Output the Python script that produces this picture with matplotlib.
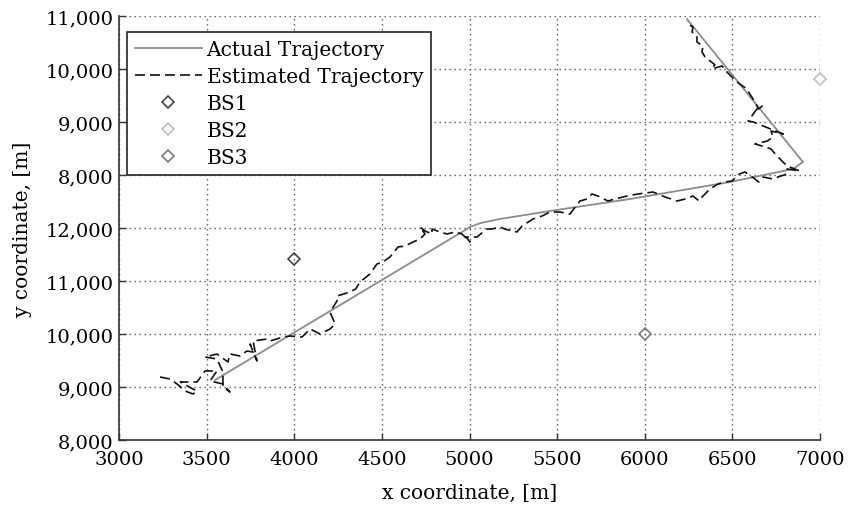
import matplotlib
matplotlib.use('Agg')
import matplotlib.pyplot as plt

# Actual (ground truth) mobile trajectory, metres
actual_x = [3548, 4957, 5003, 5060, 5117, 5174, 5459, 5916, 6486, 6846, 6903, 6241]
actual_y = [9132, 11925, 12019, 12090, 12132, 12170, 12321, 12547, 12868, 13113, 13245, 15943]

# Estimated trajectory from the tracker, metres
est_x = [3234, 3291, 3331, 3377, 3422, 3445, 3400, 3350, 3445, 3491,
         3559, 3519, 3593, 3633, 3593, 3593, 3559, 3491, 3559, 3622,
         3633, 3690, 3730, 3765, 3748, 3787, 3765, 3845, 3862, 3936,
         3976, 4044, 4090, 4147, 4204, 4233, 4204, 4244, 4244, 4318,
         4350, 4375, 4432, 4472, 4506, 4546, 4592, 4632, 4678, 4718,
         4746, 4718, 4746, 4786, 4786, 4832, 4872, 4917, 4957, 5003,
         4980, 5043, 5077, 5100, 5128, 5174, 5200, 5271, 5300, 5362,
         5414, 5459, 5516, 5573, 5630, 5670, 5699, 5733, 5790, 5830,
         5899, 5962, 6047, 6116, 6184, 6230, 6275, 6310, 6327, 6372,
         6418, 6458, 6498, 6540, 6572, 6629, 6650, 6675, 6732, 6760,
         6812, 6812, 6886, 6857, 6812, 6760, 6720, 6690, 6629, 6700,
         6732, 6720, 6790, 6675, 6620, 6590, 6640, 6670, 6650, 6618,
         6589, 6583, 6526, 6509, 6469, 6441, 6384, 6400, 6344, 6327,
         6332, 6298, 6298, 6270, 6275, 6247, 6240]
est_y = [9189, 9151, 9057, 8925, 8868, 8925, 9000, 9094, 9094, 9302,
         9302, 9113, 9057, 8906, 9000, 9283, 9528, 9566, 9623, 9472,
         9623, 9585, 9679, 9660, 9811, 9491, 9868, 9906, 9868, 9943,
         9962, 9943, 10094, 10000, 10094, 10189, 10415, 10623, 10717, 10792,
         10849, 10981, 11132, 11321, 11358, 11453, 11642, 11660, 11736, 11792,
         11887, 12019, 11943, 11887, 11981, 11925, 11887, 11925, 11887, 11736,
         11830, 11830, 11925, 11981, 11981, 12019, 11981, 11925, 12038, 12170,
         12226, 12302, 12302, 12264, 12509, 12547, 12642, 12604, 12509, 12547,
         12604, 12642, 12679, 12585, 12509, 12547, 12604, 12509, 12585, 12736,
         12830, 12868, 12887, 13019, 13057, 12925, 12868, 12962, 12925, 12962,
         13019, 13113, 13075, 13113, 13170, 13340, 13491, 13528, 13585, 13642,
         13717, 13830, 13774, 13925, 14000, 14019, 14245, 14302, 14245, 14434,
         14585, 14623, 14755, 14811, 14943, 15057, 15000, 15080, 15226, 15321,
         15434, 15509, 15623, 15698, 15793, 15849, 15900]

# Base stations
bs_names = ['BS1', 'BS2', 'BS3']
bs_x = [4000, 7000, 6000]
bs_y = [11415, 14811, 10000]
bs_colors = ['#454545', '#c0c0c0', '#7a7a7a']

x_ticks = [3000, 3500, 4000, 4500, 5000, 5500, 6000, 6500, 7000]
y_ticks = [8000, 9000, 10000, 11000, 12000, 13000, 14000, 15000, 16000]
y_tick_labels = ['8,000', '9,000', '10,000', '11,000', '12,000',
                 '8,000', '9,000', '10,000', '11,000']

plt.rcParams['font.family'] = ['DejaVu Serif']
TICK_FS = 14
LABEL_FS = 14.5

fig = plt.figure(figsize=(8.58, 5.06), dpi=100)
ax = fig.add_axes([119 / 858, 65 / 506, 701 / 858, 424 / 506])

ax.plot(actual_x, actual_y, color='#8c8c8c', linewidth=1.3, label='Actual Trajectory')
ax.plot(est_x, est_y, color='#111111', linewidth=1.2, linestyle=(0, (6, 3)),
        label='Estimated Trajectory')
for name, x, y, c in zip(bs_names, bs_x, bs_y, bs_colors):
    ax.plot([x], [y], linestyle='none', marker='D', markersize=6,
            markerfacecolor='none', markeredgecolor=c, markeredgewidth=1.2,
            label=name, clip_on=False)

ax.set_xlim(3000, 7000)
ax.set_ylim(8000, 16000)
ax.set_xticks(x_ticks)
ax.set_xticklabels([str(v) for v in x_ticks])
ax.set_yticks(y_ticks)
ax.set_yticklabels(y_tick_labels)
ax.tick_params(direction='in', length=5, width=1, labelsize=TICK_FS,
               color='#333333', pad=4)
ax.tick_params(axis='x', pad=7)

ax.grid(True, color='#555555', linewidth=1, linestyle=(0, (1, 2.6)))
ax.spines['top'].set_visible(False)
ax.spines['right'].set_visible(False)
for side in ['left', 'bottom']:
    ax.spines[side].set_color('#333333')
    ax.spines[side].set_linewidth(1.2)

ax.set_xlabel('x coordinate, [m]', fontsize=LABEL_FS, labelpad=11)
ax.set_ylabel('y coordinate, [m]', fontsize=LABEL_FS, labelpad=10)

leg = ax.legend(loc='upper left', bbox_to_anchor=(0.0114, 0.962), borderaxespad=0,
                fancybox=False, framealpha=1, edgecolor='#222222', fontsize=LABEL_FS,
                handlelength=3.3, handletextpad=0.25, labelspacing=0.4,
                borderpad=0.4, numpoints=1)
leg.get_frame().set_linewidth(1.2)

fig.savefig('out.png', dpi=100, facecolor='white')
